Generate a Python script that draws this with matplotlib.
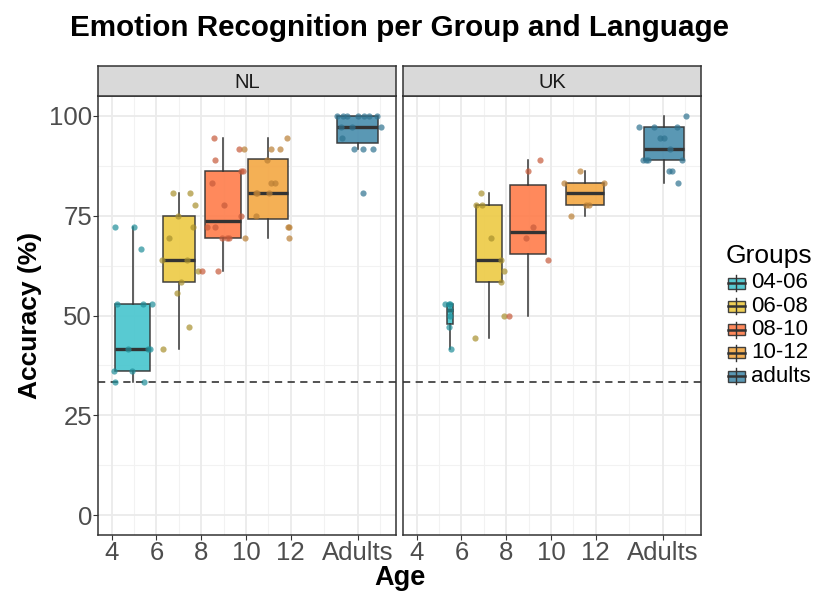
import numpy as np
import matplotlib
matplotlib.use("Agg")
import matplotlib.pyplot as plt
from matplotlib.patches import Rectangle

plt.rcParams['font.family'] = ['Liberation Sans', 'DejaVu Sans']

# group names and colours
groups = ['04-06', '06-08', '08-10', '10-12', 'adults']
box_cols = ['#4AC6CF', '#EDCB48', '#FF7F4E', '#F4A946', '#4C8FAE']
pt_cols = ['#1F8E99', '#A8902E', '#C65A3A', '#BA7F35', '#2F7390']
chance = 100 / 3

# x axis
age_ticks = [4, 6, 8, 10, 12, 15]
age_labels = ['4', '6', '8', '10', '12', 'Adults']
acc_ticks = [0, 25, 50, 75, 100]

# box centres / widths (age range of each group)
nl_pos = [4.94, 7.02, 8.96, 11.0, 15.0]
nl_wid = [1.58, 1.43, 1.60, 1.80, 1.83]
uk_pos = [5.49, 7.23, 8.98, 11.53, 15.04]
uk_wid = [0.30, 1.13, 1.58, 1.67, 1.80]

# box stats: whislo, q1, med, q3, whishi
nl_stats = [
    [33.3, 36.1, 41.7, 52.8, 72.2],
    [41.7, 58.3, 63.9, 75.0, 80.6],
    [61.1, 69.4, 73.6, 86.1, 94.4],
    [69.4, 74.3, 80.6, 89.3, 94.4],
    [91.7, 93.1, 97.2, 100.0, 100.0],
]
uk_stats = [
    [41.7, 47.9, 51.4, 52.8, 52.8],
    [44.4, 58.3, 63.9, 77.8, 80.6],
    [50.0, 65.3, 70.8, 82.6, 88.9],
    [75.0, 77.8, 80.6, 83.3, 86.1],
    [83.3, 88.9, 91.7, 97.2, 100.0],
]

# jittered points
nl_px = [
    [4.13, 4.99, 5.29, 4.24, 5.38, 5.80, 4.71, 5.63, 5.71, 4.10, 4.91, 4.16, 5.44],
    [6.74, 7.48, 7.73, 6.97, 7.64, 6.56, 6.25, 7.36, 7.09, 6.90, 7.44, 6.29, 7.87],
    [8.58, 9.71, 8.63, 9.76, 9.86, 8.49, 9.04, 9.76, 8.27, 8.61, 8.91, 9.16, 9.24, 8.02, 8.76],
    [11.84, 9.91, 11.14, 11.53, 10.96, 11.14, 11.29, 10.46, 10.50, 11.01, 10.46, 11.88, 11.93, 9.96, 11.91],
    [14.07, 14.34, 14.52, 15.03, 15.28, 15.50, 15.87, 14.27, 14.73, 16.05, 14.29, 14.83, 15.25, 15.68, 15.22],
]
nl_py = [
    [72.2, 72.2, 66.7, 52.8, 52.8, 52.8, 41.7, 41.7, 41.7, 36.1, 36.1, 33.3, 33.3],
    [80.6, 80.6, 77.8, 75.0, 72.2, 69.4, 63.9, 63.9, 58.3, 55.6, 47.2, 41.7, 61.1],
    [94.4, 91.7, 88.9, 86.1, 86.1, 83.3, 77.8, 75.0, 72.2, 72.2, 69.4, 69.4, 69.4, 61.1, 61.1],
    [94.4, 91.7, 91.7, 91.7, 88.9, 83.3, 83.3, 80.6, 80.6, 80.6, 75.0, 72.2, 72.2, 69.4, 69.4],
    [100, 100, 100, 100, 100, 100, 100, 97.2, 97.2, 97.2, 94.4, 91.7, 91.7, 91.7, 80.6],
]
uk_px = [
    [5.26, 5.49, 5.45, 5.47, 5.48, 5.46, 5.53],
    [6.87, 6.63, 6.90, 7.32, 7.75, 7.90, 7.77, 7.90, 6.60],
    [9.50, 8.98, 9.21, 8.88, 9.86, 8.11],
    [11.28, 10.58, 12.39, 11.59, 11.71, 10.89],
    [16.05, 13.94, 14.62, 15.63, 14.86, 15.04, 15.31, 14.12, 14.27, 14.34, 15.84, 15.28, 15.40, 15.70],
]
uk_py = [
    [52.8, 52.8, 52.8, 51.4, 50.0, 47.2, 41.7],
    [80.6, 77.8, 77.8, 69.4, 63.9, 61.1, 58.3, 50.0, 44.4],
    [88.9, 86.1, 72.2, 69.4, 63.9, 50.0],
    [86.1, 83.3, 83.3, 77.8, 77.8, 75.0],
    [100, 97.2, 97.2, 97.2, 94.4, 94.4, 91.7, 88.9, 88.9, 88.9, 88.9, 86.1, 86.1, 83.3],
]

W, H = 814, 592
fig = plt.figure(figsize=(W / 100, H / 100), dpi=100)


def px_box(x0, y0, x1, y1):
    # pixel box (top-left origin) -> figure fraction
    return [x0 / W, 1 - y1 / H, (x1 - x0) / W, (y1 - y0) / H]


def panel(rect, strip_rect, name, pos, wid, stats, px, py, first):
    ax = fig.add_axes(rect)
    ax.set_xlim(3.40, 16.71)
    ax.set_ylim(-5, 105)
    # grid
    for v in [5, 7, 9, 11, 13.5, 16]:
        ax.axvline(v, color='#F2F2F2', lw=0.8, zorder=0)
    for v in [12.5, 37.5, 62.5, 87.5]:
        ax.axhline(v, color='#F2F2F2', lw=0.8, zorder=0)
    for v in age_ticks:
        ax.axvline(v, color='#EBEBEB', lw=1.3, zorder=0)
    for v in acc_ticks:
        ax.axhline(v, color='#EBEBEB', lw=1.3, zorder=0)
    ax.axhline(chance, color='#444444', lw=1.3, ls=(0, (4, 3)), zorder=1)

    bstats = [dict(whislo=s[0], q1=s[1], med=s[2], q3=s[3], whishi=s[4]) for s in stats]
    bp = ax.bxp(bstats, positions=pos, widths=wid, patch_artist=True,
                showfliers=False, showcaps=False, manage_ticks=False,
                boxprops=dict(edgecolor='#333333', linewidth=1.1),
                whiskerprops=dict(color='#333333', linewidth=1.1),
                medianprops=dict(color='#333333', linewidth=2.4, solid_capstyle='butt'),
                zorder=2)
    for patch, c in zip(bp['boxes'], box_cols):
        patch.set_facecolor(c)
        patch.set_alpha(0.92)
        patch.set_edgecolor('#333333')
    for xs, ys, c in zip(px, py, pt_cols):
        ax.scatter(xs, ys, s=20, color=c, alpha=0.7, linewidths=0, zorder=3)

    ax.set_xticks(age_ticks)
    ax.set_xticklabels(age_labels)
    ax.tick_params(axis='x', labelsize=18.5, labelcolor='#4D4D4D', color='#333333',
                   length=3.5, width=0.8, pad=1)
    if first:
        ax.set_yticks(acc_ticks)
        ax.tick_params(axis='y', labelsize=18.5, labelcolor='#4D4D4D', color='#333333',
                       length=3.5, width=0.8, pad=1)
    else:
        ax.set_yticks([])
    for sp in ax.spines.values():
        sp.set_color('#333333')
        sp.set_linewidth(1.1)

    st = fig.add_axes(strip_rect)
    st.set_xticks([])
    st.set_yticks([])
    st.set_facecolor('#D9D9D9')
    for sp in st.spines.values():
        sp.set_color('#333333')
        sp.set_linewidth(1.1)
    st.text(0.5, 0.45, name, ha='center', va='center', fontsize=14.5, color='#1A1A1A',
            transform=st.transAxes)
    return ax


ax1 = panel(px_box(98.3, 96, 396, 535), px_box(98.3, 65.5, 396, 96), 'NL',
            nl_pos, nl_wid, nl_stats, nl_px, nl_py, True)
ax2 = panel(px_box(403.3, 96, 701, 535), px_box(403.3, 65.5, 701, 96), 'UK',
            uk_pos, uk_wid, uk_stats, uk_px, uk_py, False)

fig.text(399.5 / W, 1 - 28 / H, 'Emotion Recognition per Group and Language',
         ha='center', va='center', fontsize=21.3, fontweight='bold')
fig.text(399.5 / W, 1 - 578 / H, 'Age', ha='center', va='center',
         fontsize=19.5, fontweight='bold')
fig.text(30 / W, 1 - 315.5 / H, 'Accuracy (%)', ha='center', va='center',
         fontsize=19, fontweight='bold', rotation=90)

# legend
lg = fig.add_axes([0, 0, 1, 1])
lg.set_xlim(0, W)
lg.set_ylim(H, 0)
lg.axis('off')
lg.text(726, 256, 'Groups', ha='left', va='center', fontsize=19)
for i, (g, c) in enumerate(zip(groups, box_cols)):
    yc = 283 + i * 23.25
    lg.plot([736, 736], [yc - 8, yc + 8], color='#333333', lw=1.0)
    lg.add_patch(Rectangle((727.5, yc - 5.5), 17, 11, facecolor=c, edgecolor='#333333',
                           lw=1.0, alpha=0.92))
    lg.plot([727.5, 744.5], [yc, yc], color='#333333', lw=1.8)
    lg.text(751, yc, g, ha='left', va='center', fontsize=16)

fig.savefig('out.png', dpi=100)
